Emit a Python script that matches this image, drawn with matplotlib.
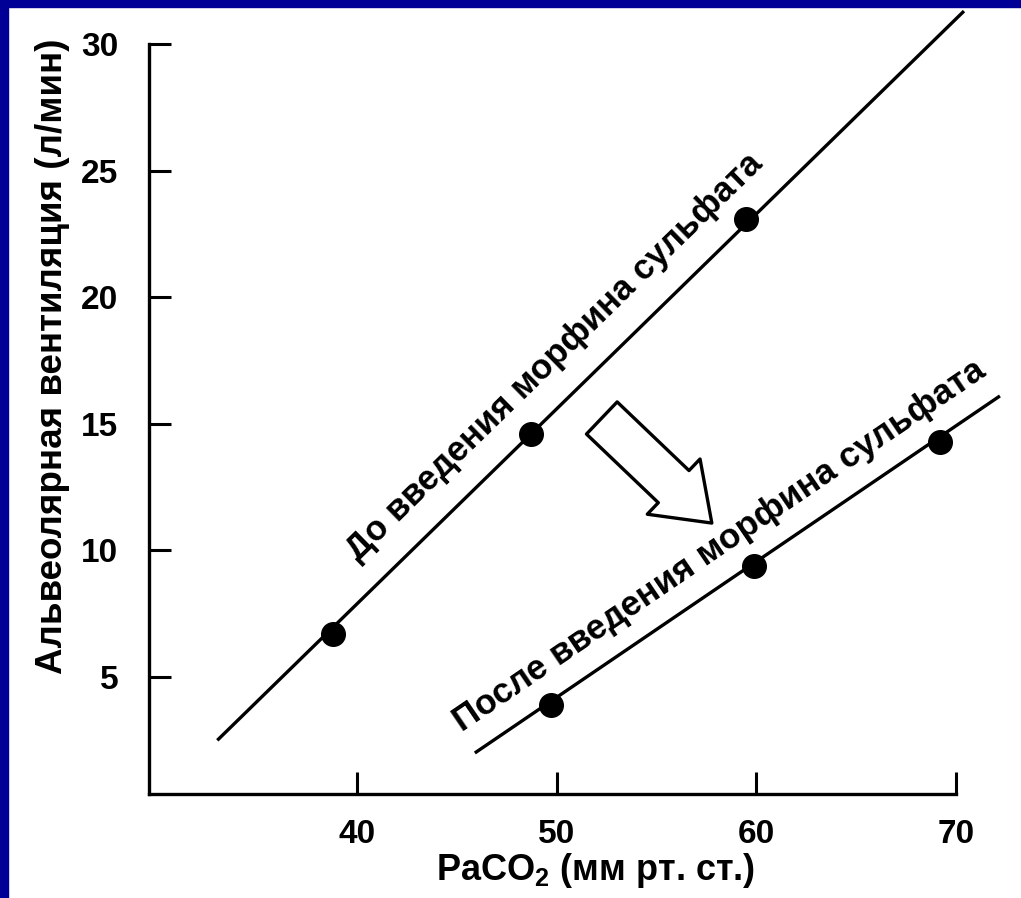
import numpy as np
import matplotlib
matplotlib.use("Agg")
import matplotlib.pyplot as plt
from matplotlib.patches import Rectangle, FancyArrowPatch

plt.rcParams['font.family'] = ['Liberation Sans', 'DejaVu Sans']
plt.rcParams['font.weight'] = 'bold'
plt.rcParams['axes.labelweight'] = 'bold'
plt.rcParams['mathtext.fontset'] = 'custom'
plt.rcParams['mathtext.rm'] = 'Liberation Sans:bold'
plt.rcParams['mathtext.it'] = 'Liberation Sans:bold'
plt.rcParams['mathtext.bf'] = 'Liberation Sans:bold'

# ---- data ----
before_x = [38.8, 48.7, 59.5]
before_y = [6.7, 14.6, 23.1]
before_line_x = [33.0, 70.4]
before_line_y = [2.5, 31.3]

after_x = [49.7, 59.9, 69.2]
after_y = [3.9, 9.4, 14.3]
after_line_x = [45.9, 72.2]
after_line_y = [2.0, 16.1]

x_ticks = [40, 50, 60, 70]
y_ticks = [5, 10, 15, 20, 25, 30]

label_before = "До введения морфина сульфата"
label_after = "После введения морфина сульфата"
xlabel = "PaCO$_2$ (мм рт. ст.)"
ylabel = "Альвеолярная вентиляция (л/мин)"

W, H = 1021, 898
fig = plt.figure(figsize=(W / 100, H / 100), dpi=100)
fig.patch.set_facecolor('white')
blue = '#000096'
fig.patches.append(Rectangle((0, 1 - 7 / H), 1, 7 / H, transform=fig.transFigure,
                             color=blue, zorder=10))
fig.patches.append(Rectangle((0, 0), 8 / W, 1, transform=fig.transFigure,
                             color=blue, zorder=10))

ax = fig.add_axes([149 / W, 1 - 794 / H, (956 - 149) / W, (794 - 44) / H])
ax.set_xlim(29.58, 70)
ax.set_ylim(0.38, 30)
for s in ['top', 'right']:
    ax.spines[s].set_visible(False)
for s in ['left', 'bottom']:
    ax.spines[s].set_linewidth(2.4)

ax.set_xticks(x_ticks)
ax.set_yticks(y_ticks)
ax.tick_params(axis='both', direction='in', length=16, width=2.2, labelsize=24,
               colors='black')
ax.tick_params(axis='x', pad=18)
ax.tick_params(axis='y', pad=22)

ax.plot(before_line_x, before_line_y, color='black', lw=2.4, clip_on=False,
        solid_capstyle='butt')
ax.plot(after_line_x, after_line_y, color='black', lw=2.4, clip_on=False,
        solid_capstyle='butt')
ax.plot(before_x, before_y, 'o', color='black', ms=17, clip_on=False)
ax.plot(after_x, after_y, 'o', color='black', ms=17, clip_on=False)

ax.set_xlabel(xlabel, fontsize=26, fontweight='bold')
ax.xaxis.set_label_coords(0.554, -0.102)
ax.xaxis.label.set_va('center')
ax.set_ylabel(ylabel, fontsize=26.5, fontweight='bold')
ax.yaxis.set_label_coords(-0.119, 0.583)
ax.yaxis.label.set_va('center')


def angle_of(xs, ys):
    p = ax.transData.transform(np.column_stack([xs, ys]))
    d = p[1] - p[0]
    return np.degrees(np.arctan2(d[1], d[0]))


a1 = angle_of(before_line_x, before_line_y)
a2 = angle_of(after_line_x, after_line_y)
ax.text(49.91, 17.64, label_before, rotation=a1, rotation_mode='anchor',
        ha='center', va='center', fontsize=25)
ax.text(58.17, 10.17, label_after, rotation=a2, rotation_mode='anchor',
        ha='center', va='center', fontsize=25.3)

arrow = FancyArrowPatch((52.26, 15.23), (57.77, 11.08),
                        arrowstyle='simple,head_width=55,head_length=38,tail_width=32',
                        mutation_scale=1, facecolor='white', edgecolor='black',
                        lw=2.4, shrinkA=0, shrinkB=0)
ax.add_patch(arrow)

fig.savefig('out.png', dpi=100, facecolor='white')
